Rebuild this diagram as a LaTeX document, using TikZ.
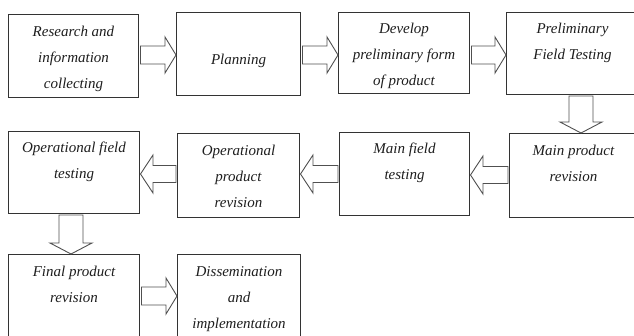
\documentclass[tikz,border=0pt]{standalone}
\usepackage{fontspec}
\setmainfont{Liberation Serif}
\usetikzlibrary{calc}
\definecolor{boxline}{HTML}{333333}
\definecolor{arrline}{HTML}{505050}
\definecolor{txtcol}{HTML}{1E1E1E}
\tikzset{
  box/.style={draw=boxline, line width=1pt, fill=white, inner sep=0pt, anchor=north west},
  txt/.style={inner sep=0pt, anchor=north, align=center, text=txtcol,
    font=\fontsize{15}{26}\selectfont\itshape},
  blk/.style={draw=arrline, line width=0.9pt, fill=white, line join=miter}
}
% right block arrow from #1.east to #2.west at canvas y #3
\newcommand\rblk[3]{%
  \draw[blk] let \p1=(#1.east), \p2=(#2.west) in
    (\x1+1.5pt,#3+9pt) -- (\x2-11pt,#3+9pt) -- (\x2-11pt,#3+18pt) -- (\x2,#3)
    -- (\x2-11pt,#3-18pt) -- (\x2-11pt,#3-9pt) -- (\x1+1.5pt,#3-9pt) -- cycle;}
% left block arrow from #1.west to #2.east at canvas y #3
\newcommand\lblk[3]{%
  \draw[blk] let \p1=(#1.west), \p2=(#2.east) in
    (\x1-1pt,#3+8.5pt) -- (\x2+13pt,#3+8.5pt) -- (\x2+13pt,#3+19pt) -- (\x2+0.5pt,#3)
    -- (\x2+13pt,#3-19pt) -- (\x2+13pt,#3-8.5pt) -- (\x1-1pt,#3-8.5pt) -- cycle;}
% down block arrow from #1.south to #2.north at canvas x #3
\newcommand\dblk[3]{%
  \draw[blk] let \p1=(#1.south), \p2=(#2.north) in
    (#3-12pt,\y1-1pt) -- (#3-12pt,\y2+11pt) -- (#3-21pt,\y2+11pt) -- (#3,\y2)
    -- (#3+21pt,\y2+11pt) -- (#3+12pt,\y2+11pt) -- (#3+12pt,\y1-1pt) -- cycle;}
\begin{document}
\begin{tikzpicture}[x=1pt,y=1pt]
\useasboundingbox (0,0) rectangle (634,-335);
\clip (0,0) rectangle (634,-335);
\fill[white] (0,0) rectangle (634,-335);
% boxes
\node[box, minimum width=130pt, minimum height=83pt] (b1) at (8,-14) {};
\node[box, minimum width=124pt, minimum height=83pt] (b2) at (176,-12) {};
\node[box, minimum width=131pt, minimum height=81pt] (b3) at (338,-12) {};
\node[box, minimum width=150pt, minimum height=82pt] (b4) at (506,-12) {};
\node[box, minimum width=150pt, minimum height=84pt] (b5) at (509,-133) {};
\node[box, minimum width=130pt, minimum height=83pt] (b6) at (339,-132) {};
\node[box, minimum width=122pt, minimum height=84pt] (b7) at (177,-133) {};
\node[box, minimum width=131pt, minimum height=82pt] (b8) at (8,-131) {};
\node[box, minimum width=131pt, minimum height=100pt] (b9) at (8,-254) {};
\node[box, minimum width=123pt, minimum height=100pt] (b10) at (177,-254) {};
% texts
\node[txt] (t1) at ([yshift=-11.5pt]b1.north) {Research and\\information\\collecting};
\node[txt] (t2) at ([yshift=-42pt]b2.north) {Planning};
\node[txt] (t3) at ([yshift=-10.5pt]b3.north) {Develop\\preliminary form\\of product};
\node[txt] (t4) at ([xshift=-9pt,yshift=-11pt]b4.north) {Preliminary\\Field Testing};
\node[txt] (t5) at ([xshift=-11pt,yshift=-11.5pt]b5.north) {Main product\\revision};
\node[txt] (t6) at ([yshift=-10.5pt]b6.north) {Main field\\testing};
\node[txt] (t7) at ([yshift=-11.5pt]b7.north) {Operational\\product\\revision};
\node[txt] (t8) at ([yshift=-10.5pt]b8.north) {Operational field\\testing};
\node[txt] (t9) at ([yshift=-12pt]b9.north) {Final product\\revision};
\node[txt] (t10) at ([yshift=-12pt]b10.north) {Dissemination\\and\\implementation};
% block arrows
\rblk{b1}{b2}{-55pt}
\rblk{b2}{b3}{-55pt}
\rblk{b3}{b4}{-55pt}
\dblk{b4}{b5}{581pt}
\lblk{b5}{b6}{-175pt}
\lblk{b6}{b7}{-174pt}
\lblk{b7}{b8}{-174pt}
\dblk{b8}{b9}{71pt}
\rblk{b9}{b10}{-296pt}
\end{tikzpicture}
\end{document}
